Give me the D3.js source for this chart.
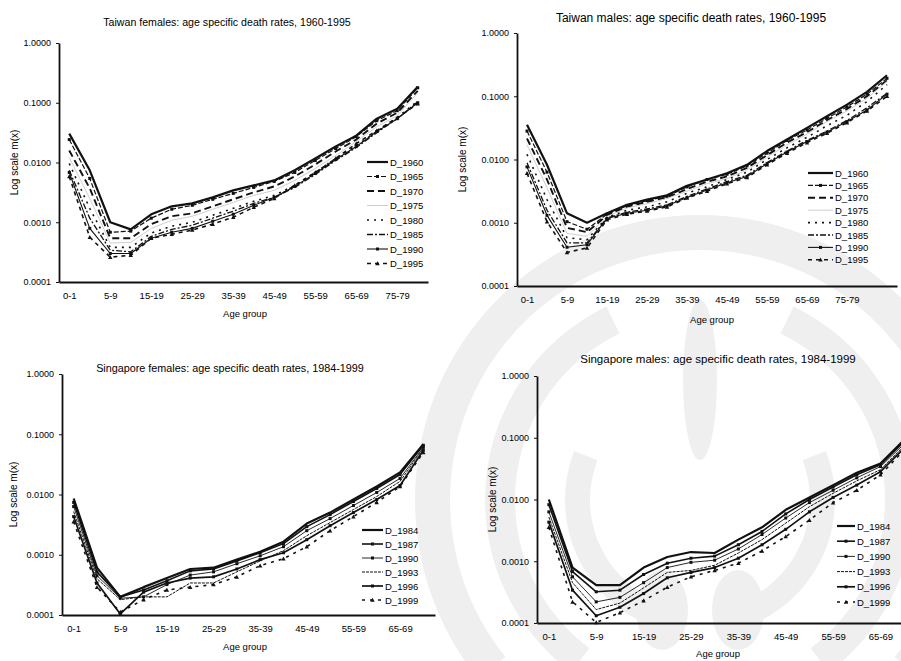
<!DOCTYPE html>
<html>
<head>
<meta charset="utf-8">
<script src="https://cdn.jsdelivr.net/npm/d3@7"></script>
<style>
  body { margin: 0; background: #fff; }
  svg { display: block; }
  text { font-family: "Liberation Sans", Arial, sans-serif; fill: #000; }
</style>
</head>
<body>
<div id="chart"></div>
<script>
// Age groups on the category axis
const taiwanFemaleAges = ['0-1','1-4','5-9','10-14','15-19','20-24','25-29','30-34','35-39','40-44',
  '45-49','50-54','55-59','60-64','65-69','70-74','75-79','80+'];
const taiwanMaleAges = ['0-1','1-4','5-9','10-14','15-19','20-24','25-29','30-34','35-39','40-44',
  '45-49','50-54','55-59','60-64','65-69','70-74','75-79','80-84','85+'];
const singaporeAges = ['0-1','1-4','5-9','10-14','15-19','20-24','25-29','30-34','35-39','40-44',
  '45-49','50-54','55-59','60-64','65-69','70+'];

const taiwanYears = ['D_1960','D_1965','D_1970','D_1975','D_1980','D_1985','D_1990','D_1995'];
const singaporeYears = ['D_1984','D_1987','D_1990','D_1993','D_1996','D_1999'];

const yTickValues = [0.0001, 0.001, 0.01, 0.1, 1];

// Age specific death rates m(x), one row per year
const taiwanFemaleRates = [
  [0.0304,0.0074,0.0010,0.00076,0.00136,0.00185,0.00207,0.00261,0.00342,0.00414,0.00501,0.0074,0.0117,0.0185,0.0282,0.0541,0.0794,0.185],
  [0.0242,0.0054,0.00068,0.00071,0.00117,0.00165,0.00192,0.00242,0.00304,0.00383,0.00482,0.00681,0.0108,0.0171,0.0271,0.0501,0.0736,0.178],
  [0.0159,0.00369,0.00054,0.00054,0.00093,0.00126,0.00141,0.00185,0.00242,0.00316,0.00398,0.00584,0.00926,0.0153,0.0242,0.0447,0.0681,0.158],
  [0.0121,0.00251,0.00045,0.00046,0.00079,0.00108,0.00126,0.00165,0.00215,0.00282,0.00342,0.00501,0.00794,0.0131,0.0224,0.0398,0.0607,0.147],
  [0.00962,0.00171,0.00038,0.00038,0.00066,0.00086,0.0010,0.00131,0.00171,0.00224,0.00282,0.00414,0.00681,0.0117,0.0192,0.0329,0.0562,0.108],
  [0.0074,0.00117,0.00034,0.00032,0.00058,0.00076,0.00089,0.00117,0.00153,0.00207,0.00261,0.00383,0.00631,0.0108,0.0178,0.0316,0.0541,0.104],
  [0.00681,0.00079,0.00030,0.00030,0.00054,0.00068,0.00079,0.00104,0.00136,0.00192,0.00261,0.00398,0.00656,0.0112,0.0185,0.0329,0.0541,0.100],
  [0.00584,0.00056,0.00026,0.00028,0.00054,0.00063,0.00074,0.00093,0.00121,0.00178,0.00251,0.00414,0.00681,0.0117,0.0207,0.0342,0.0562,0.0962]
];

const taiwanMaleRates = [
  [0.0355,0.00825,0.00141,0.0010,0.00141,0.00192,0.00233,0.00271,0.00383,0.00482,0.00607,0.00825,0.0136,0.0207,0.0316,0.0482,0.0736,0.117,0.215],
  [0.0282,0.00631,0.00104,0.00079,0.00136,0.00185,0.00224,0.00261,0.00369,0.00482,0.00584,0.00794,0.0126,0.0200,0.0293,0.0447,0.0681,0.108,0.192],
  [0.0215,0.00482,0.00083,0.00071,0.00131,0.00178,0.00215,0.00251,0.00342,0.00447,0.0054,0.0074,0.0117,0.0185,0.0271,0.0414,0.0631,0.100,0.178],
  [0.0171,0.00355,0.00068,0.00061,0.00126,0.00171,0.0020,0.00242,0.00316,0.00414,0.00501,0.00681,0.0108,0.0171,0.0251,0.0398,0.0584,0.0926,0.171],
  [0.0121,0.00233,0.00058,0.00054,0.00121,0.00158,0.00178,0.00215,0.00293,0.00369,0.00482,0.00631,0.0100,0.0153,0.0224,0.0342,0.0501,0.0825,0.153],
  [0.00891,0.00158,0.00048,0.00048,0.00119,0.00147,0.00165,0.00192,0.00261,0.00342,0.00447,0.00562,0.00891,0.0136,0.0200,0.0282,0.0414,0.0656,0.112],
  [0.00764,0.00131,0.00041,0.00045,0.00117,0.00141,0.00158,0.00185,0.00251,0.00329,0.0043,0.0054,0.00858,0.0131,0.0192,0.0271,0.0398,0.0607,0.108],
  [0.00607,0.00104,0.00034,0.00040,0.00112,0.00136,0.00153,0.00178,0.00246,0.00316,0.00414,0.00521,0.00825,0.0126,0.0185,0.0261,0.0383,0.0584,0.100]
];

const singaporeFemaleRates = [
  [0.00858,0.00061,0.00020,0.00029,0.00041,0.00058,0.00061,0.00083,0.00112,0.00165,0.00329,0.00501,0.00825,0.0136,0.0233,0.0681],
  [0.0074,0.00052,0.00020,0.00026,0.00037,0.00054,0.00058,0.00079,0.00108,0.00153,0.00293,0.00464,0.00764,0.0126,0.0215,0.0656],
  [0.00631,0.00045,0.00019,0.00020,0.00032,0.00046,0.00052,0.00071,0.00096,0.00136,0.00251,0.00398,0.00656,0.0108,0.0185,0.0607],
  [0.00521,0.00040,0.00018,0.00020,0.00020,0.00034,0.00034,0.00052,0.00079,0.00117,0.00207,0.00342,0.00562,0.00926,0.0165,0.0584],
  [0.0043,0.00034,0.000104,0.00024,0.00034,0.00041,0.00043,0.00058,0.00083,0.00108,0.00178,0.00304,0.00501,0.00825,0.0141,0.0541],
  [0.00355,0.00029,0.000112,0.00018,0.00026,0.00029,0.00032,0.00043,0.00066,0.00086,0.00136,0.00251,0.0043,0.0074,0.0136,0.0501]
];

const singaporeMaleRates = [
  [0.0100,0.00079,0.00041,0.00041,0.00079,0.00117,0.00141,0.00136,0.00224,0.00355,0.00681,0.0108,0.0171,0.0271,0.0383,0.0926],
  [0.00825,0.00068,0.00032,0.00034,0.00061,0.00093,0.00112,0.00121,0.00185,0.00304,0.00584,0.0100,0.0159,0.0251,0.0365,0.0871],
  [0.00631,0.00056,0.00022,0.00026,0.00045,0.00079,0.00096,0.00104,0.00158,0.00271,0.00501,0.00891,0.0141,0.0224,0.0342,0.0794],
  [0.00521,0.00045,0.000165,0.00021,0.00037,0.00066,0.00071,0.00086,0.00136,0.00224,0.00414,0.00764,0.0126,0.0200,0.0304,0.0736],
  [0.0043,0.00034,0.000131,0.00018,0.00030,0.00054,0.00066,0.00079,0.00112,0.00185,0.00329,0.00631,0.0108,0.0171,0.0282,0.0681],
  [0.00355,0.00022,0.000102,0.000147,0.00023,0.00038,0.00056,0.00071,0.00093,0.00147,0.00251,0.00464,0.00891,0.0141,0.0251,0.0631]
];

// Line look per series (scanned black & white excel styles)
const taiwanStyles = [
  { w: 2.2, dash: null },
  { w: 1.2, dash: '5,2', marker: 'dot' },
  { w: 1.9, dash: '7,4' },
  { w: 1.0, dash: null, color: '#cfcfcf' },
  { w: 1.6, dash: '2,5' },
  { w: 1.3, dash: '6,2,2,2' },
  { w: 1.1, dash: null, marker: 'dot' },
  { w: 1.6, dash: '4,4', marker: 'tri' }
];
const singaporeStyles = [
  { w: 2.2, dash: null },
  { w: 1.6, dash: null, marker: 'dot' },
  { w: 0.9, dash: null, marker: 'dot' },
  { w: 1.0, dash: '3,1' },
  { w: 1.7, dash: null, marker: 'dot' },
  { w: 1.6, dash: '3,5', marker: 'tri' }
];

const panels = [
  { title: 'Taiwan females: age specific death rates, 1960-1995', ages: taiwanFemaleAges, years: taiwanYears,
    rates: taiwanFemaleRates, styles: taiwanStyles, lastLabel: 16,
    x0: 59, x1: 428, top: 43, bottom: 282, titleX: 227, titleY: 26, titleSize: 10.6,
    yLabelX: 15, xLabelX: 245, xLabelY: 317,
    legend: { x: 367, y: 162, dy: 14.5, len: 21 } },
  { title: 'Taiwan males: age specific death rates, 1960-1995', ages: taiwanMaleAges, years: taiwanYears,
    rates: taiwanMaleRates, styles: taiwanStyles, lastLabel: 16,
    x0: 517, x1: 897, top: 33, bottom: 286, titleX: 691, titleY: 22, titleSize: 12,
    yLabelX: 463, xLabelX: 712, xLabelY: 323,
    legend: { x: 808, y: 173, dy: 12.4, len: 25 } },
  { title: 'Singapore females: age specific death rates, 1984-1999', ages: singaporeAges, years: singaporeYears,
    rates: singaporeFemaleRates, styles: singaporeStyles, lastLabel: 14,
    x0: 62, x1: 435, top: 374, bottom: 615, titleX: 230, titleY: 372, titleSize: 10.8,
    yLabelX: 14, xLabelX: 245, xLabelY: 650,
    legend: { x: 362, y: 530, dy: 14, len: 21 } },
  { title: 'Singapore males: age specific death rates, 1984-1999', ages: singaporeAges, years: singaporeYears,
    rates: singaporeMaleRates, styles: singaporeStyles, lastLabel: 14,
    x0: 537, x1: 916, top: 376, bottom: 623, titleX: 718, titleY: 363, titleSize: 11.5,
    yLabelX: 493, xLabelX: 718, xLabelY: 657,
    legend: { x: 837, y: 526, dy: 15.2, len: 18 } }
];

const svg = d3.select('#chart').append('svg')
  .attr('width', 901)
  .attr('height', 661);

// faint watermark of the scanned page, drawn behind the charts
let drawWatermark = _ => {
  const wm = svg.append('g').attr('fill', '#efefef');
  const arc = d3.arc();
  const bands = [
    { innerRadius: 250, outerRadius: 285, startAngle: -2.25, endAngle: 2.25 },
    { innerRadius: 185, outerRadius: 215, startAngle: -2.5, endAngle: -0.45 },
    { innerRadius: 185, outerRadius: 215, startAngle: 0.45, endAngle: 2.5 },
    { innerRadius: 110, outerRadius: 135, startAngle: -2.7, endAngle: -1.2 },
    { innerRadius: 110, outerRadius: 135, startAngle: 1.2, endAngle: 2.7 }
  ];
  bands.forEach(b => wm.append('path')
    .attr('transform', 'translate(700,500)')
    .attr('d', arc(b)));
  wm.append('ellipse').attr('cx', 700).attr('cy', 380).attr('rx', 17).attr('ry', 80);
  wm.append('ellipse').attr('cx', 662).attr('cy', 610).attr('rx', 26).attr('ry', 40);
  wm.append('ellipse').attr('cx', 738).attr('cy', 610).attr('rx', 26).attr('ry', 40);
};
drawWatermark();

let drawMarkers = (g, pts, style) => {
  if (!style.marker) return;
  pts.forEach(p => {
    if (style.marker == 'dot')
      g.append('rect').attr('x', p[0] - 1.5).attr('y', p[1] - 1.5).attr('width', 3).attr('height', 3).attr('fill', '#111');
    else
      g.append('path').attr('d', `M${p[0]},${p[1] - 2.2}L${p[0] + 2.2},${p[1] + 1.8}L${p[0] - 2.2},${p[1] + 1.8}Z`).attr('fill', '#111');
  });
};

let drawPanel = p => {
  const g = svg.append('g');
  const x = d3.scalePoint().domain(p.ages).range([p.x0, p.x1]).padding(0.5);
  const y = d3.scaleLog().domain([0.0001, 1]).range([p.bottom, p.top]);

  // axes
  const yAxis = g.append('g')
    .attr('transform', `translate(${p.x0},0)`)
    .call(d3.axisLeft(y).tickValues(yTickValues).tickFormat(d3.format('.4f')).tickSize(3).tickSizeOuter(0).tickPadding(5));
  const xAxis = g.append('g')
    .attr('transform', `translate(0,${p.bottom})`)
    .call(d3.axisBottom(x).tickValues(p.ages.filter((a, i) => i % 2 == 0 && i <= p.lastLabel)).tickSize(0).tickPadding(10));
  [yAxis, xAxis].forEach(a => {
    a.select('.domain').attr('stroke', '#111').attr('stroke-width', 1.8);
    a.selectAll('.tick line').attr('stroke', '#111');
    a.selectAll('.tick text').attr('font-size', 9).attr('font-family', '"Liberation Sans", Arial, sans-serif').attr('fill', '#000');
  });
  xAxis.selectAll('.tick text').attr('font-size', 9.5);

  // lines
  const line = d3.line().x((d, i) => x(p.ages[i])).y(d => y(d));
  p.rates.forEach((row, k) => {
    const st = p.styles[k];
    g.append('path')
      .datum(row)
      .attr('fill', 'none')
      .attr('stroke', st.color || '#111')
      .attr('stroke-width', st.w)
      .attr('stroke-dasharray', st.dash)
      .attr('stroke-linejoin', 'round')
      .attr('d', line);
    drawMarkers(g, row.map((v, i) => [x(p.ages[i]), y(v)]), st);
  });

  // titles
  g.append('text')
    .attr('x', p.titleX)
    .attr('y', p.titleY)
    .attr('text-anchor', 'middle')
    .attr('font-size', p.titleSize)
    .text(p.title);
  g.append('text')
    .attr('x', p.xLabelX)
    .attr('y', p.xLabelY)
    .attr('text-anchor', 'middle')
    .attr('font-size', 9.5)
    .text('Age group');
  g.append('text')
    .attr('transform', `translate(${p.yLabelX + 3},${(p.top + p.bottom) / 2}) rotate(-90)`)
    .attr('text-anchor', 'middle')
    .attr('font-size', 10)
    .text('Log scale m(x)');

  // legend
  p.years.forEach((yr, k) => {
    const st = p.styles[k];
    const ly = p.legend.y + k * p.legend.dy;
    g.append('line')
      .attr('x1', p.legend.x).attr('x2', p.legend.x + p.legend.len)
      .attr('y1', ly).attr('y2', ly)
      .attr('stroke', st.color || '#111')
      .attr('stroke-width', st.w)
      .attr('stroke-dasharray', st.dash);
    drawMarkers(g, [[p.legend.x + p.legend.len / 2, ly]], st);
    g.append('text')
      .attr('x', p.legend.x + p.legend.len + 2)
      .attr('y', ly + 3.5)
      .attr('font-size', 9.5)
      .text(yr);
  });
};

panels.forEach(drawPanel);
</script>
</body>
</html>
